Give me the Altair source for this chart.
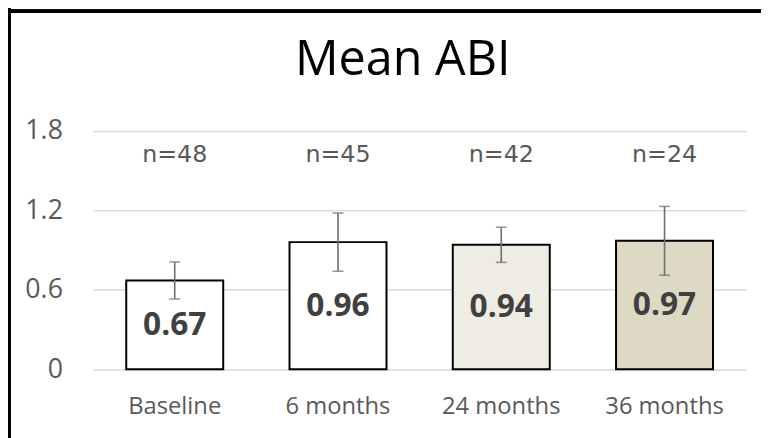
import altair as alt
import pandas as pd

title_text = "Mean ABI"
categories = ["Baseline", "6 months", "24 months", "36 months"]
means = [0.67, 0.96, 0.94, 0.97]
errors = [0.14, 0.22, 0.133, 0.26]
counts = [48, 45, 42, 24]
fills = ["#FFFFFF", "#FFFFFF", "#EEECE3", "#DDD9C4"]
y_ticks = [0, 0.6, 1.2, 1.8]

df = pd.DataFrame({"cat": categories, "mean": means, "err": errors, "n": counts})
df["lo"] = df["mean"] - df["err"]
df["hi"] = df["mean"] + df["err"]
df["half"] = df["mean"] / 2
df["nlabel"] = ["n=" + str(v) for v in counts]
df["vlabel"] = [f"{v:.2f}" for v in means]

FONT = "Open Sans"

x = alt.X("cat:N", sort=categories, title=None,
          scale=alt.Scale(paddingInner=0.406, paddingOuter=0.203),
          axis=alt.Axis(labelAngle=0, domain=False, ticks=False, labelPadding=26,
                        labelFontSize=24, labelColor="#595959", labelFont=FONT,
                        grid=False))
yscale = alt.Scale(domain=[0, 1.8], nice=False)

base = alt.Chart(df)

bars = base.mark_bar(stroke="#000000", strokeWidth=2).encode(
    x=x,
    y=alt.Y("mean:Q", scale=yscale, title=None,
            axis=alt.Axis(values=y_ticks, format="~g", domain=False, ticks=False,
                          labelPadding=31, labelFontSize=27, labelColor="#595959",
                          labelFont=FONT, gridColor="#D9D9D9", gridWidth=1.5)),
    fill=alt.Fill("cat:N", scale=alt.Scale(domain=categories, range=fills), legend=None),
)

err_rule = base.mark_rule(color="#6E6E6E", strokeWidth=1.6).encode(
    x=alt.X("cat:N", sort=categories),
    y=alt.Y("lo:Q", scale=yscale),
    y2="hi:Q",
)
cap_lo = base.mark_tick(color="#6E6E6E", size=11, thickness=1.6).encode(
    x=alt.X("cat:N", sort=categories), y=alt.Y("lo:Q", scale=yscale))
cap_hi = base.mark_tick(color="#6E6E6E", size=11, thickness=1.6).encode(
    x=alt.X("cat:N", sort=categories), y=alt.Y("hi:Q", scale=yscale))

value_text = base.mark_text(fontSize=32, fontWeight="bold", color="#404040",
                            font=FONT, baseline="middle").encode(
    x=alt.X("cat:N", sort=categories),
    y=alt.Y("half:Q", scale=yscale),
    text="vlabel:N",
)

n_text = base.mark_text(fontSize=24, color="#595959", font="DejaVu Sans",
                        baseline="middle").encode(
    x=alt.X("cat:N", sort=categories),
    y=alt.value(24),
    text="nlabel:N",
)

title_mark = alt.Chart(pd.DataFrame({"t": [title_text]})).mark_text(
    fontSize=49, font=FONT, color="#000000", baseline="alphabetic", align="center"
).encode(x=alt.value(313), y=alt.value(-57), text="t:N")

border_left = alt.Chart(df).mark_rule(color="#000000", strokeWidth=3.5).encode(
    x=alt.value(-85), y=alt.value(-130), y2=alt.value(330))
border_top = alt.Chart(df).mark_rule(color="#000000", strokeWidth=3.5).encode(
    x=alt.value(-90), x2=alt.value(690), y=alt.value(-121))

chart = alt.layer(bars, err_rule, cap_lo, cap_hi, value_text, n_text, title_mark,
                  border_left, border_top).properties(
    width=660, height=240.7,
    autosize=alt.AutoSizeParams(type="none"),
    padding={"left": 86, "top": 122, "right": 15, "bottom": 68},
).configure_view(stroke=None)

chart.save("out.html", embed_options={"renderer": "svg", "actions": False})
